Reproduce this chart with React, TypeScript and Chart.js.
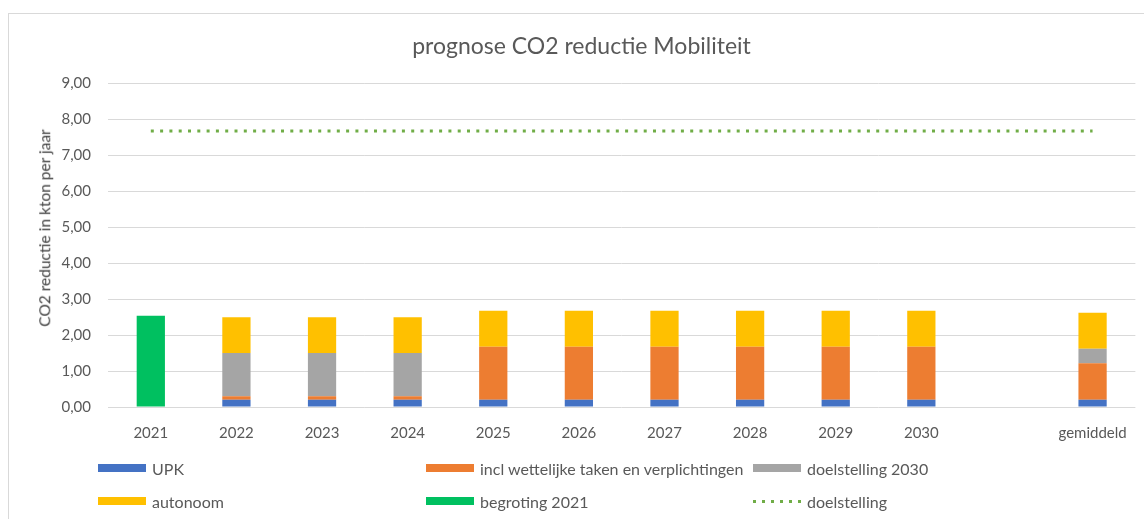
import React, { useEffect, useRef } from 'react';
import { Chart, registerables } from 'chart.js';
Chart.register(...registerables);

const categories = ['2021', '2022', '2023', '2024', '2025', '2026', '2027', '2028', '2029', '2030', '', 'gemiddeld'];
const upk = [null, 0.2, 0.2, 0.2, 0.2, 0.2, 0.2, 0.2, 0.2, 0.2, null, 0.2];
const inclWettelijk = [null, 0.1, 0.1, 0.1, 1.48, 1.48, 1.48, 1.48, 1.48, 1.48, null, 1.02];
const doelstelling2030 = [null, 1.2, 1.2, 1.2, null, null, null, null, null, null, null, 0.4];
const autonoom = [null, 1.0, 1.0, 1.0, 1.0, 1.0, 1.0, 1.0, 1.0, 1.0, null, 1.0];
const begroting2021 = [2.54, null, null, null, null, null, null, null, null, null, null, null];
const doelstelling = [7.68, 7.68, 7.68, 7.68, 7.68, 7.68, 7.68, 7.68, 7.68, 7.68, 7.68, 7.68];
const yTicks = { min: 0, max: 9, step: 1 };

const COLORS = {
  upk: '#4472C4',
  incl: '#ED7D31',
  doel2030: '#A5A5A5',
  autonoom: '#FFC000',
  begroting: '#00C060',
  doel: '#70AD47',
};

const LABELS = {
  upk: 'UPK',
  incl: 'incl wettelijke taken en verplichtingen',
  doel2030: 'doelstelling 2030',
  autonoom: 'autonoom',
  begroting: 'begroting 2021',
  doel: 'doelstelling',
};

const TITLE = 'prognose CO2 reductie Mobiliteit';
const Y_TITLE = 'CO2 reductie in kton per jaar';

const FONT = 'Lato, "Open Sans", sans-serif';
const TEXT = '#595959';

export default function App() {
  const ref = useRef<HTMLCanvasElement>(null);

  useEffect(() => {
    Chart.defaults.font.family = FONT;
    const barCommon = { stack: 'bars', barPercentage: 0.33, categoryPercentage: 1, borderWidth: 0 };
    const chart = new Chart(ref.current as HTMLCanvasElement, {
      type: 'bar',
      data: {
        labels: categories,
        datasets: [
          { label: LABELS.upk, data: upk, backgroundColor: COLORS.upk, ...barCommon, order: 2 } as any,
          { label: LABELS.incl, data: inclWettelijk, backgroundColor: COLORS.incl, ...barCommon, order: 2 } as any,
          { label: LABELS.doel2030, data: doelstelling2030, backgroundColor: COLORS.doel2030, ...barCommon, order: 2 } as any,
          { label: LABELS.autonoom, data: autonoom, backgroundColor: COLORS.autonoom, ...barCommon, order: 2 } as any,
          { label: LABELS.begroting, data: begroting2021, backgroundColor: COLORS.begroting, ...barCommon, order: 2 } as any,
          {
            type: 'line',
            label: LABELS.doel,
            data: doelstelling,
            stack: 'goal',
            borderColor: COLORS.doel,
            backgroundColor: COLORS.doel,
            borderWidth: 3,
            borderDash: [3, 6.3],
            borderCapStyle: 'butt',
            pointRadius: 0,
            fill: false,
            order: 1,
          } as any,
        ],
      },
      options: {
        responsive: false,
        animation: false,
        devicePixelRatio: 1,
        layout: { padding: { left: 18, right: 8, top: 0, bottom: 0 } },
        plugins: {
          legend: { display: false },
          tooltip: { enabled: false },
          title: {
            display: true,
            text: TITLE,
            color: TEXT,
            font: { family: FONT, size: 23, weight: 'normal' },
            padding: { top: 19, bottom: 23 },
          },
        },
        scales: {
          x: {
            stacked: true,
            grid: { display: false, drawTicks: false },
            border: { display: false },
            ticks: { color: TEXT, font: { family: FONT, size: 15 }, padding: 17, autoSkip: false, maxRotation: 0 },
            afterFit: (s: any) => { s.height = 112; },
          },
          y: {
            stacked: true,
            min: yTicks.min,
            max: yTicks.max,
            grid: { color: '#D9D9D9', drawTicks: false, lineWidth: 1 },
            border: { display: false },
            ticks: {
              stepSize: yTicks.step,
              color: TEXT,
              font: { family: FONT, size: 15 },
              padding: 17,
              callback: (v: any) => Number(v).toFixed(2).replace('.', ','),
            },
            title: { display: false },
            afterFit: (s: any) => { s.width = 81; },
          },
        },
      } as any,
    });
    return () => chart.destroy();
  }, []);

  const legendRows = [
    [
      { key: 'upk', kind: 'box' },
      { key: 'incl', kind: 'box' },
      { key: 'doel2030', kind: 'box' },
    ],
    [
      { key: 'autonoom', kind: 'box' },
      { key: 'begroting', kind: 'box' },
      { key: 'doel', kind: 'dots' },
    ],
  ];
  const colLeft = [89, 417, 744];
  const rowCenter = [454, 487];

  return (
    <div
      style={{
        position: 'absolute',
        left: 8,
        top: 13,
        width: 1135,
        height: 505,
        borderLeft: '1px solid #D9D9D9',
        borderTop: '1px solid #D9D9D9',
        background: '#fff',
        overflow: 'hidden',
      }}
    >
      <canvas ref={ref} width={1135} height={505} style={{ display: 'block', width: 1135, height: 505 }} />
      <div
        style={{
          position: 'absolute',
          left: 36,
          top: 213.5,
          transform: 'translate(-50%, -50%) rotate(-90deg)',
          whiteSpace: 'nowrap',
          fontFamily: FONT,
          fontSize: 15.5,
          color: '#404040',
          lineHeight: 1,
        }}
      >
        {Y_TITLE}
      </div>
      {legendRows.map((row, r) =>
        row.map((item, c) => {
          const color = (COLORS as any)[item.key];
          const label = (LABELS as any)[item.key];
          return (
            <div
              key={item.key}
              style={{
                position: 'absolute',
                left: colLeft[c],
                top: rowCenter[r] - 10,
                height: 20,
                display: 'flex',
                alignItems: 'center',
                whiteSpace: 'nowrap',
                fontFamily: FONT,
                fontSize: 16,
                color: TEXT,
              }}
            >
              {item.kind === 'box' ? (
                <span style={{ display: 'inline-block', width: 48, height: 8, background: color, marginRight: 6 }} />
              ) : (
                <span
                  style={{
                    display: 'inline-block',
                    width: 48,
                    height: 3,
                    marginRight: 6,
                    backgroundImage: `repeating-linear-gradient(to right, ${color} 0 3px, transparent 3px 9px)`,
                  }}
                />
              )}
              <span>{label}</span>
            </div>
          );
        })
      )}
    </div>
  );
}
